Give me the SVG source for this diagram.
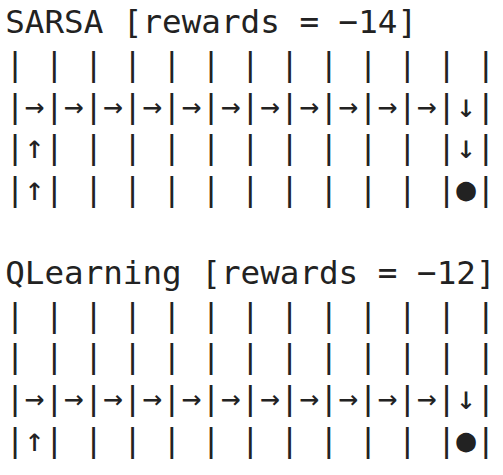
<svg xmlns="http://www.w3.org/2000/svg" width="503" height="475" viewBox="0 0 503 475">
<style>
text{font-family:"DejaVu Sans Mono","Liberation Mono",monospace;font-size:32.6px;fill:#222;white-space:pre}
</style>
<rect width="503" height="475" fill="#fff"/>
<g id="sarsa" xml:space="preserve">
<text x="5.2" y="33">SARSA [rewards = −14]</text>
<text x="5.2" y="74.8">| | | | | | | | | | | | |</text>
<text x="5.2" y="116.6">|→|→|→|→|→|→|→|→|→|→|→|↓|</text>
<text x="5.2" y="158.4">|↑| | | | | | | | | | |↓|</text>
<text x="5.2" y="200.2">|↑| | | | | | | | | | |●|</text>
</g>
<g id="qlearning" xml:space="preserve">
<text x="5.2" y="283.8">QLearning [rewards = −12]</text>
<text x="5.2" y="325.6">| | | | | | | | | | | | |</text>
<text x="5.2" y="367.4">| | | | | | | | | | | | |</text>
<text x="5.2" y="409.2">|→|→|→|→|→|→|→|→|→|→|→|↓|</text>
<text x="5.2" y="451">|↑| | | | | | | | | | |●|</text>
</g>
</svg>
